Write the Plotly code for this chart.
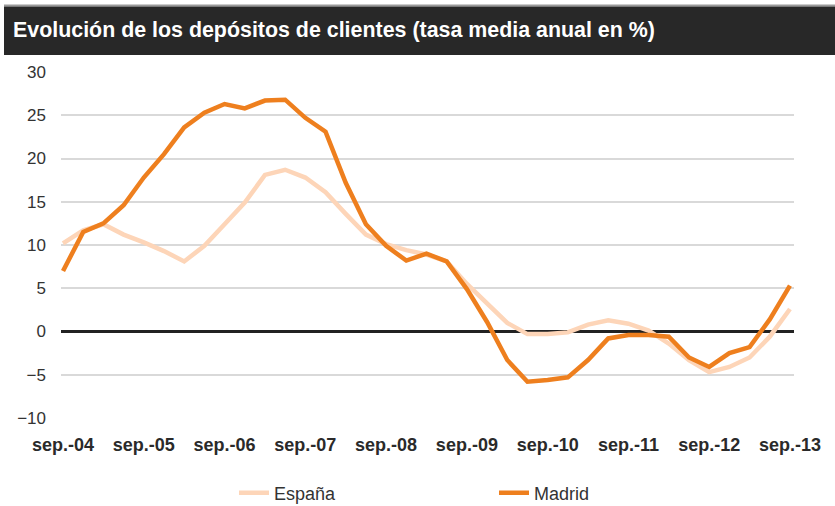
import plotly.graph_objects as go

months = ["sep.", "dic.", "mar.", "jun."]
periods = []
for i in range(37):
    yr = 4 + (i + 3) // 4
    periods.append(f"{months[i % 4]}-{yr:02d}")

espana = [10.2, 11.7, 12.4, 11.2, 10.3, 9.3, 8.1, 9.9, 12.4, 14.9, 18.1, 18.7,
          17.8, 16.1, 13.6, 11.2, 10.1, 9.4, 8.9, 8.1, 5.5, 3.2, 1.0, -0.3,
          -0.3, -0.1, 0.8, 1.3, 0.9, 0.1, -1.4, -3.3, -4.7, -4.1, -3.0, -0.6, 2.6]
madrid = [7.0, 11.5, 12.5, 14.6, 17.8, 20.5, 23.6, 25.3, 26.3, 25.8, 26.7, 26.8,
          24.7, 23.1, 17.2, 12.4, 9.9, 8.2, 9.0, 8.1, 4.9, 1.1, -3.3, -5.8,
          -5.6, -5.3, -3.3, -0.8, -0.4, -0.4, -0.6, -3.0, -4.1, -2.5, -1.8, 1.4, 5.3]

tick_labels = ["sep.-04", "sep.-05", "sep.-06", "sep.-07", "sep.-08",
               "sep.-09", "sep.-10", "sep.-11", "sep.-12", "sep.-13"]
y_ticks = [-10, -5, 0, 5, 10, 15, 20, 25, 30]
title_text = "Evolución de los depósitos de clientes (tasa media anual en %)"

FONT = "Liberation Sans, Arial, sans-serif"
xs = list(range(len(periods)))

# plot area in pixels
L, R, T, B = 61, 794, 72, 418
PW, PH = R - L, B - T


def px_x(p):
    return (p - L) / PW


def px_y(p):
    return (B - p) / PH


fig = go.Figure()
fig.add_trace(go.Scatter(x=xs, y=espana, name="España", mode="lines",
                         customdata=periods,
                         line=dict(color="#FDD5B8", width=4.5), legend="legend"))
fig.add_trace(go.Scatter(x=xs, y=madrid, name="Madrid", mode="lines",
                         customdata=periods,
                         line=dict(color="#EE7F1E", width=4.5), legend="legend2"))

fig.update_layout(
    width=835, height=506,
    margin=dict(l=L, r=835 - R, t=T, b=506 - B, autoexpand=False),
    paper_bgcolor="white", plot_bgcolor="white",
    font=dict(family=FONT, color="#333333"),
    showlegend=True,
    legend=dict(orientation="h", x=px_x(234), xanchor="left", y=px_y(493), yanchor="middle",
                font=dict(size=18, color="#333333"), bgcolor="rgba(0,0,0,0)",
                borderwidth=0),
    legend2=dict(orientation="h", x=px_x(494), xanchor="left", y=px_y(493), yanchor="middle",
                 font=dict(size=18, color="#333333"), bgcolor="rgba(0,0,0,0)",
                 borderwidth=0),
    xaxis=dict(range=[-0.1, 36.2], tickvals=xs[::4], ticktext=tick_labels,
               showgrid=False, zeroline=False, showline=False,
               ticks="outside", ticklen=10, tickcolor="rgba(0,0,0,0)",
               tickfont=dict(size=18, color="#2a2a2a", family=FONT, weight="bold")),
    yaxis=dict(range=[-10, 30], tickvals=y_ticks, showgrid=True,
               gridcolor="#D9D9D9", gridwidth=1.5,
               zeroline=True, zerolinecolor="#222222", zerolinewidth=2.5,
               showline=False, ticks="", ticklabelstandoff=14,
               tickfont=dict(size=17, color="#333333")),
    shapes=[
        dict(type="rect", xref="paper", yref="paper",
             x0=px_x(4), x1=px_x(835), y0=px_y(6.5), y1=px_y(4.5),
             line=dict(width=0), fillcolor="#9A9A9A", layer="below"),
        dict(type="rect", xref="paper", yref="paper",
             x0=px_x(4), x1=px_x(835), y0=px_y(55), y1=px_y(6.5),
             line=dict(width=0), fillcolor="#282828", layer="below"),
    ],
    annotations=[
        dict(text=f"<b>{title_text}</b>", xref="paper", yref="paper",
             x=px_x(11), y=px_y(30.5), xanchor="left", yanchor="middle",
             showarrow=False, font=dict(size=21.4, color="white", family=FONT)),
    ],
)

fig.write_html("out.html",
               config={"displayModeBar": False},
               post_script="document.body.style.margin='0px';"
                           "document.body.style.overflow='hidden';")
